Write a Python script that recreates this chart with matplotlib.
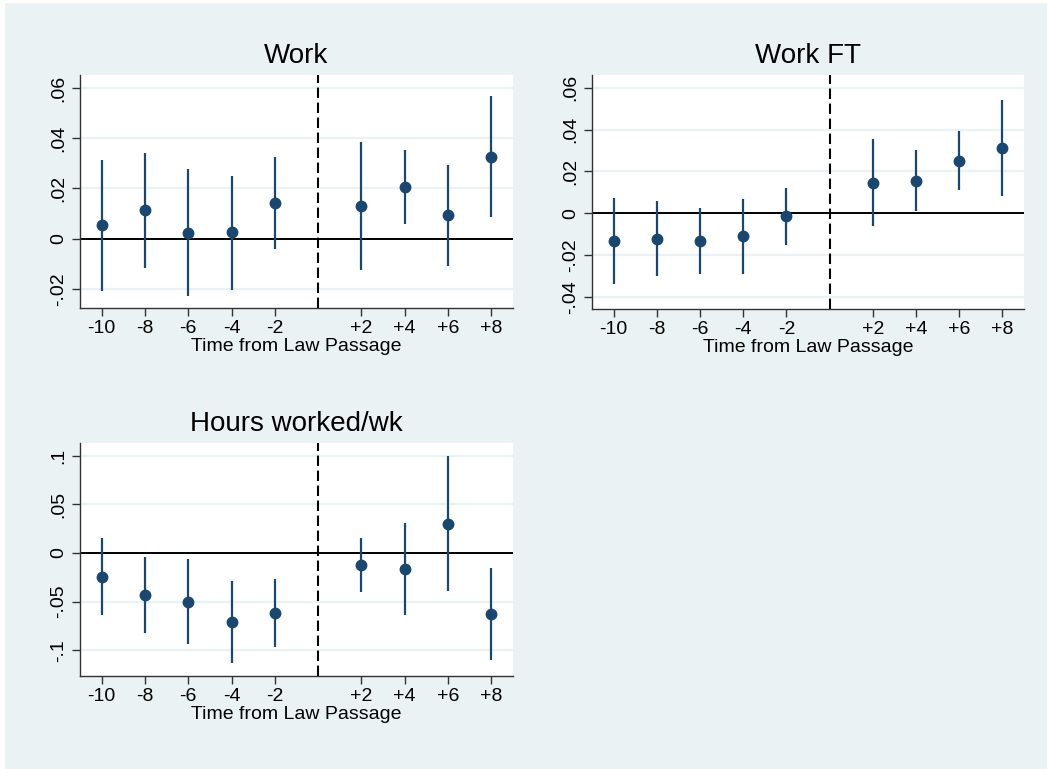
import matplotlib
matplotlib.use("Agg")
import matplotlib.pyplot as plt
from matplotlib.patches import Rectangle

plt.rcParams['font.family'] = ['Liberation Sans', 'DejaVu Sans']

# ---------------- data ----------------
time_values = [-10, -8, -6, -4, -2, 2, 4, 6, 8]
tick_labels = ["-10", "-8", "-6", "-4", "-2", "+2", "+4", "+6", "+8"]

work_est = [0.0053, 0.0113, 0.0024, 0.0025, 0.0143, 0.0131, 0.0207, 0.0094, 0.0327]
work_hi = [0.0314, 0.0340, 0.0276, 0.0250, 0.0326, 0.0384, 0.0354, 0.0294, 0.0568]
work_lo = [-0.0209, -0.0117, -0.0229, -0.0203, -0.0040, -0.0123, 0.0057, -0.0107, 0.0086]

workft_est = [-0.0133, -0.0121, -0.0132, -0.0109, -0.0014, 0.0145, 0.0156, 0.0252, 0.0311]
workft_hi = [0.0075, 0.0057, 0.0026, 0.0070, 0.0123, 0.0354, 0.0302, 0.0393, 0.0541]
workft_lo = [-0.0340, -0.0300, -0.0290, -0.0289, -0.0152, -0.0061, 0.0010, 0.0110, 0.0083]

hours_est = [-0.0243, -0.0434, -0.0503, -0.0715, -0.0616, -0.0123, -0.0164, 0.0301, -0.0633]
hours_hi = [0.0150, -0.0044, -0.0068, -0.0291, -0.0267, 0.0154, 0.0311, 0.0995, -0.0157]
hours_lo = [-0.0640, -0.0828, -0.0940, -0.1135, -0.0971, -0.0397, -0.0640, -0.0393, -0.1105]

work_yticks = [-0.02, 0, 0.02, 0.04, 0.06]
work_ylabels = ["-.02", "0", ".02", ".04", ".06"]
workft_yticks = [-0.04, -0.02, 0, 0.02, 0.04, 0.06]
workft_ylabels = ["-.04", "-.02", "0", ".02", ".04", ".06"]
hours_yticks = [-0.1, -0.05, 0, 0.05, 0.1]
hours_ylabels = ["-.1", "-.05", "0", ".05", ".1"]

titles = ["Work", "Work FT", "Hours worked/wk"]
xlabel = "Time from Law Passage"

# ---------------- style ----------------
BG = "#EAF2F3"
NAVY = "#1A476F"
W, H = 1047, 769

fig = plt.figure(figsize=(W / 100, H / 100), dpi=100, facecolor="white")
fig.patches.append(Rectangle((5 / W, 0), 1 - 5 / W, 1 - 3 / H, transform=fig.transFigure,
                             facecolor=BG, edgecolor="none", zorder=-10))


def panel(rect, title, est, lo, hi, yticks, ylabels, ylim):
    l, t, r, b = rect
    ax = fig.add_axes([l / W, 1 - b / H, (r - l) / W, (b - t) / H])
    ax.set_facecolor("white")
    for y in yticks:
        if y != 0:
            ax.axhline(y, color=BG, lw=1.6, zorder=0)
    ax.axhline(0, color="black", lw=1.4, zorder=1)
    ax.axvline(0, color="black", lw=1.5, dashes=(5, 2.2), zorder=1)
    for x, a, b2 in zip(time_values, lo, hi):
        ax.plot([x, x], [a, b2], color=NAVY, lw=1.6, zorder=2, solid_capstyle="butt")
    ax.plot(time_values, est, "o", color=NAVY, ms=7.5, zorder=3)
    ax.set_xlim(-11, 9)
    ax.set_ylim(*ylim)
    ax.set_xticks(time_values)
    ax.set_xticklabels(tick_labels, fontsize=14)
    ax.set_yticks(yticks)
    ax.set_yticklabels(ylabels, fontsize=14, rotation=90, va="center")
    ax.tick_params(axis="both", length=5.5, width=1, color="#333333", pad=3)
    ax.tick_params(axis="y", pad=4)
    for s in ["top", "right"]:
        ax.spines[s].set_visible(False)
    for s in ["left", "bottom"]:
        ax.spines[s].set_color("#333333")
        ax.spines[s].set_linewidth(1.0)
    ax.set_xlabel(xlabel, fontsize=14, labelpad=1)
    ax.set_title(title, fontsize=20, pad=8.5)
    return ax


panel((80, 75, 513, 308), titles[0], work_est, work_lo, work_hi,
      work_yticks, work_ylabels, (-0.0276, 0.0652))
panel((592, 75, 1024, 309), titles[1], workft_est, workft_lo, workft_hi,
      workft_yticks, workft_ylabels, (-0.0458, 0.0661))
panel((80, 443, 513, 676), titles[2], hours_est, hours_lo, hours_hi,
      hours_yticks, hours_ylabels, (-0.1265, 0.1129))

fig.savefig("out.png", dpi=100, facecolor="white")
